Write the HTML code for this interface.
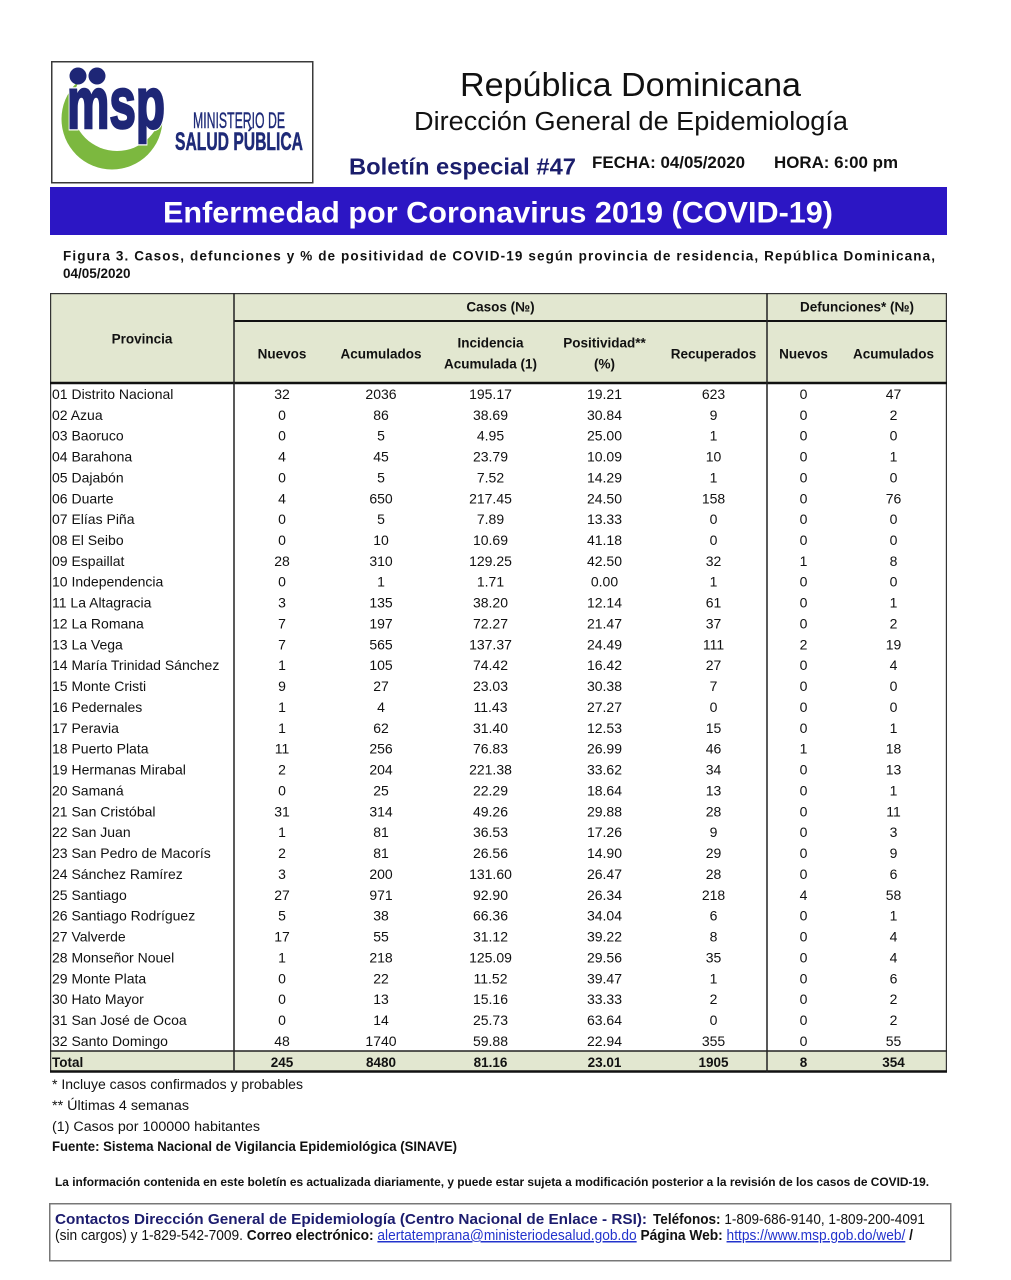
<!DOCTYPE html>
<html><head><meta charset="utf-8">
<style>
html,body{margin:0;padding:0;background:#fff;}
body{width:1011px;height:1280px;overflow:hidden;}
svg{display:block;font-family:"Liberation Sans",Arial,sans-serif;}
.t{font-size:14px;fill:#111;}
.t text.c{text-anchor:middle;}
.h{font-size:13.5px;font-weight:bold;fill:#111;}
.h text{text-anchor:middle;}
.b{font-weight:bold;}
</style></head>
<body>
<svg width="1011" height="1280" viewBox="0 0 1011 1280" xmlns="http://www.w3.org/2000/svg">
<rect x="0" y="0" width="1011" height="1280" fill="#fff"/>

<!-- Logo -->
<circle cx="112" cy="119" r="50.5" fill="#7cb83f"/>
<circle cx="117" cy="106" r="45" fill="#fff"/>
<circle cx="78" cy="76" r="8.5" fill="#1e2676"/>
<circle cx="97" cy="76" r="8.5" fill="#1e2676"/>
<text x="67" y="128" font-size="72" font-weight="bold" fill="#fff" stroke="#fff" stroke-width="5" textLength="98" lengthAdjust="spacingAndGlyphs">msp</text>
<text x="67" y="128" font-size="72" font-weight="bold" fill="#1e2676" stroke="#1e2676" stroke-width="2.5" textLength="98" lengthAdjust="spacingAndGlyphs">msp</text>
<text x="193" y="128" font-size="22" fill="#1e2a78" stroke="#1e2a78" stroke-width="0.4" textLength="92" lengthAdjust="spacingAndGlyphs">MINISTERIO DE</text>
<text x="175" y="150" font-size="25" font-weight="bold" fill="#1e2a78" stroke="#1e2a78" stroke-width="0.5" textLength="128" lengthAdjust="spacingAndGlyphs">SALUD PÚBLICA</text>
<rect x="51.75" y="61.75" width="261" height="121" fill="none" stroke="#3a3a3a" stroke-width="1.5"/>

<!-- Header titles -->
<text x="460" y="96" font-size="33" fill="#111" textLength="341" lengthAdjust="spacingAndGlyphs">República Dominicana</text>
<text x="414" y="130" font-size="25.5" fill="#111" textLength="434" lengthAdjust="spacingAndGlyphs">Dirección General de Epidemiología</text>
<text x="349" y="174.5" font-size="23.5" font-weight="bold" fill="#1b1e6c" textLength="227" lengthAdjust="spacingAndGlyphs">Boletín especial #47</text>
<text x="592" y="168" font-size="16.5" font-weight="bold" fill="#111" textLength="153" lengthAdjust="spacingAndGlyphs">FECHA: 04/05/2020</text>
<text x="774" y="168" font-size="16.5" font-weight="bold" fill="#111" textLength="124" lengthAdjust="spacingAndGlyphs">HORA: 6:00 pm</text>

<!-- Banner -->
<rect x="50" y="187" width="897" height="48" fill="#2c16c4"/>
<text x="163" y="222.5" font-size="30" font-weight="bold" fill="#fff" textLength="670" lengthAdjust="spacingAndGlyphs">Enfermedad por Coronavirus 2019 (COVID-19)</text>

<!-- Caption -->
<text x="63" y="260.5" font-size="13.5" font-weight="bold" fill="#111" textLength="872" lengthAdjust="spacing">Figura 3. Casos, defunciones y % de positividad de COVID-19 según provincia de residencia, República Dominicana,</text>
<text x="63" y="278" font-size="13.5" font-weight="bold" fill="#111">04/05/2020</text>

<!-- Table backgrounds -->
<rect x="50" y="293" width="897" height="90" fill="#e2e7d0"/>
<rect x="50" y="1051" width="897" height="21" fill="#e2e7d0"/>

<!-- Table lines -->
<rect x="50.6" y="293.6" width="895.8" height="777.8" fill="none" stroke="#333" stroke-width="1.2"/>
<line x1="234" y1="321" x2="947" y2="321" stroke="#111" stroke-width="2"/>
<line x1="50" y1="383" x2="947" y2="383" stroke="#111" stroke-width="2.5"/>
<line x1="50" y1="1051" x2="947" y2="1051" stroke="#222" stroke-width="1.6"/>
<line x1="50" y1="1071.5" x2="947" y2="1071.5" stroke="#111" stroke-width="2.5"/>
<line x1="234" y1="293" x2="234" y2="1072" stroke="#222" stroke-width="1.5"/>
<line x1="767" y1="293" x2="767" y2="1072" stroke="#222" stroke-width="1.5"/>

<!-- Header text -->
<g class="h">
<text x="142" y="343.7">Provincia</text>
<text x="500.5" y="311.7">Casos (№)</text>
<text x="857" y="311.7">Defunciones* (№)</text>
<text x="282" y="358.7">Nuevos</text>
<text x="381" y="358.7">Acumulados</text>
<text x="490.5" y="347.7">Incidencia</text>
<text x="490.5" y="368.7">Acumulada (1)</text>
<text x="604.5" y="347.7">Positividad**</text>
<text x="604.5" y="368.7">(%)</text>
<text x="713.5" y="358.7">Recuperados</text>
<text x="803.5" y="358.7">Nuevos</text>
<text x="893.5" y="358.7">Acumulados</text>
</g>

<!-- Data rows -->
<g class="t">
<g transform="translate(0,398.9)"><text x="52">01 Distrito Nacional</text><text class="c" x="282">32</text><text class="c" x="381">2036</text><text class="c" x="490.5">195.17</text><text class="c" x="604.5">19.21</text><text class="c" x="713.5">623</text><text class="c" x="803.5">0</text><text class="c" x="893.5">47</text></g>
<g transform="translate(0,419.8)"><text x="52">02 Azua</text><text class="c" x="282">0</text><text class="c" x="381">86</text><text class="c" x="490.5">38.69</text><text class="c" x="604.5">30.84</text><text class="c" x="713.5">9</text><text class="c" x="803.5">0</text><text class="c" x="893.5">2</text></g>
<g transform="translate(0,440.6)"><text x="52">03 Baoruco</text><text class="c" x="282">0</text><text class="c" x="381">5</text><text class="c" x="490.5">4.95</text><text class="c" x="604.5">25.00</text><text class="c" x="713.5">1</text><text class="c" x="803.5">0</text><text class="c" x="893.5">0</text></g>
<g transform="translate(0,461.5)"><text x="52">04 Barahona</text><text class="c" x="282">4</text><text class="c" x="381">45</text><text class="c" x="490.5">23.79</text><text class="c" x="604.5">10.09</text><text class="c" x="713.5">10</text><text class="c" x="803.5">0</text><text class="c" x="893.5">1</text></g>
<g transform="translate(0,482.4)"><text x="52">05 Dajabón</text><text class="c" x="282">0</text><text class="c" x="381">5</text><text class="c" x="490.5">7.52</text><text class="c" x="604.5">14.29</text><text class="c" x="713.5">1</text><text class="c" x="803.5">0</text><text class="c" x="893.5">0</text></g>
<g transform="translate(0,503.3)"><text x="52">06 Duarte</text><text class="c" x="282">4</text><text class="c" x="381">650</text><text class="c" x="490.5">217.45</text><text class="c" x="604.5">24.50</text><text class="c" x="713.5">158</text><text class="c" x="803.5">0</text><text class="c" x="893.5">76</text></g>
<g transform="translate(0,524.1)"><text x="52">07 Elías Piña</text><text class="c" x="282">0</text><text class="c" x="381">5</text><text class="c" x="490.5">7.89</text><text class="c" x="604.5">13.33</text><text class="c" x="713.5">0</text><text class="c" x="803.5">0</text><text class="c" x="893.5">0</text></g>
<g transform="translate(0,545.0)"><text x="52">08 El Seibo</text><text class="c" x="282">0</text><text class="c" x="381">10</text><text class="c" x="490.5">10.69</text><text class="c" x="604.5">41.18</text><text class="c" x="713.5">0</text><text class="c" x="803.5">0</text><text class="c" x="893.5">0</text></g>
<g transform="translate(0,565.9)"><text x="52">09 Espaillat</text><text class="c" x="282">28</text><text class="c" x="381">310</text><text class="c" x="490.5">129.25</text><text class="c" x="604.5">42.50</text><text class="c" x="713.5">32</text><text class="c" x="803.5">1</text><text class="c" x="893.5">8</text></g>
<g transform="translate(0,586.7)"><text x="52">10 Independencia</text><text class="c" x="282">0</text><text class="c" x="381">1</text><text class="c" x="490.5">1.71</text><text class="c" x="604.5">0.00</text><text class="c" x="713.5">1</text><text class="c" x="803.5">0</text><text class="c" x="893.5">0</text></g>
<g transform="translate(0,607.6)"><text x="52">11 La Altagracia</text><text class="c" x="282">3</text><text class="c" x="381">135</text><text class="c" x="490.5">38.20</text><text class="c" x="604.5">12.14</text><text class="c" x="713.5">61</text><text class="c" x="803.5">0</text><text class="c" x="893.5">1</text></g>
<g transform="translate(0,628.5)"><text x="52">12 La Romana</text><text class="c" x="282">7</text><text class="c" x="381">197</text><text class="c" x="490.5">72.27</text><text class="c" x="604.5">21.47</text><text class="c" x="713.5">37</text><text class="c" x="803.5">0</text><text class="c" x="893.5">2</text></g>
<g transform="translate(0,649.3)"><text x="52">13 La Vega</text><text class="c" x="282">7</text><text class="c" x="381">565</text><text class="c" x="490.5">137.37</text><text class="c" x="604.5">24.49</text><text class="c" x="713.5">111</text><text class="c" x="803.5">2</text><text class="c" x="893.5">19</text></g>
<g transform="translate(0,670.2)"><text x="52">14 María Trinidad Sánchez</text><text class="c" x="282">1</text><text class="c" x="381">105</text><text class="c" x="490.5">74.42</text><text class="c" x="604.5">16.42</text><text class="c" x="713.5">27</text><text class="c" x="803.5">0</text><text class="c" x="893.5">4</text></g>
<g transform="translate(0,691.1)"><text x="52">15 Monte Cristi</text><text class="c" x="282">9</text><text class="c" x="381">27</text><text class="c" x="490.5">23.03</text><text class="c" x="604.5">30.38</text><text class="c" x="713.5">7</text><text class="c" x="803.5">0</text><text class="c" x="893.5">0</text></g>
<g transform="translate(0,712.0)"><text x="52">16 Pedernales</text><text class="c" x="282">1</text><text class="c" x="381">4</text><text class="c" x="490.5">11.43</text><text class="c" x="604.5">27.27</text><text class="c" x="713.5">0</text><text class="c" x="803.5">0</text><text class="c" x="893.5">0</text></g>
<g transform="translate(0,732.8)"><text x="52">17 Peravia</text><text class="c" x="282">1</text><text class="c" x="381">62</text><text class="c" x="490.5">31.40</text><text class="c" x="604.5">12.53</text><text class="c" x="713.5">15</text><text class="c" x="803.5">0</text><text class="c" x="893.5">1</text></g>
<g transform="translate(0,753.7)"><text x="52">18 Puerto Plata</text><text class="c" x="282">11</text><text class="c" x="381">256</text><text class="c" x="490.5">76.83</text><text class="c" x="604.5">26.99</text><text class="c" x="713.5">46</text><text class="c" x="803.5">1</text><text class="c" x="893.5">18</text></g>
<g transform="translate(0,774.6)"><text x="52">19 Hermanas Mirabal</text><text class="c" x="282">2</text><text class="c" x="381">204</text><text class="c" x="490.5">221.38</text><text class="c" x="604.5">33.62</text><text class="c" x="713.5">34</text><text class="c" x="803.5">0</text><text class="c" x="893.5">13</text></g>
<g transform="translate(0,795.4)"><text x="52">20 Samaná</text><text class="c" x="282">0</text><text class="c" x="381">25</text><text class="c" x="490.5">22.29</text><text class="c" x="604.5">18.64</text><text class="c" x="713.5">13</text><text class="c" x="803.5">0</text><text class="c" x="893.5">1</text></g>
<g transform="translate(0,816.3)"><text x="52">21 San Cristóbal</text><text class="c" x="282">31</text><text class="c" x="381">314</text><text class="c" x="490.5">49.26</text><text class="c" x="604.5">29.88</text><text class="c" x="713.5">28</text><text class="c" x="803.5">0</text><text class="c" x="893.5">11</text></g>
<g transform="translate(0,837.2)"><text x="52">22 San Juan</text><text class="c" x="282">1</text><text class="c" x="381">81</text><text class="c" x="490.5">36.53</text><text class="c" x="604.5">17.26</text><text class="c" x="713.5">9</text><text class="c" x="803.5">0</text><text class="c" x="893.5">3</text></g>
<g transform="translate(0,858.0)"><text x="52">23 San Pedro de Macorís</text><text class="c" x="282">2</text><text class="c" x="381">81</text><text class="c" x="490.5">26.56</text><text class="c" x="604.5">14.90</text><text class="c" x="713.5">29</text><text class="c" x="803.5">0</text><text class="c" x="893.5">9</text></g>
<g transform="translate(0,878.9)"><text x="52">24 Sánchez Ramírez</text><text class="c" x="282">3</text><text class="c" x="381">200</text><text class="c" x="490.5">131.60</text><text class="c" x="604.5">26.47</text><text class="c" x="713.5">28</text><text class="c" x="803.5">0</text><text class="c" x="893.5">6</text></g>
<g transform="translate(0,899.8)"><text x="52">25 Santiago</text><text class="c" x="282">27</text><text class="c" x="381">971</text><text class="c" x="490.5">92.90</text><text class="c" x="604.5">26.34</text><text class="c" x="713.5">218</text><text class="c" x="803.5">4</text><text class="c" x="893.5">58</text></g>
<g transform="translate(0,920.7)"><text x="52">26 Santiago Rodríguez</text><text class="c" x="282">5</text><text class="c" x="381">38</text><text class="c" x="490.5">66.36</text><text class="c" x="604.5">34.04</text><text class="c" x="713.5">6</text><text class="c" x="803.5">0</text><text class="c" x="893.5">1</text></g>
<g transform="translate(0,941.5)"><text x="52">27 Valverde</text><text class="c" x="282">17</text><text class="c" x="381">55</text><text class="c" x="490.5">31.12</text><text class="c" x="604.5">39.22</text><text class="c" x="713.5">8</text><text class="c" x="803.5">0</text><text class="c" x="893.5">4</text></g>
<g transform="translate(0,962.4)"><text x="52">28 Monseñor Nouel</text><text class="c" x="282">1</text><text class="c" x="381">218</text><text class="c" x="490.5">125.09</text><text class="c" x="604.5">29.56</text><text class="c" x="713.5">35</text><text class="c" x="803.5">0</text><text class="c" x="893.5">4</text></g>
<g transform="translate(0,983.3)"><text x="52">29 Monte Plata</text><text class="c" x="282">0</text><text class="c" x="381">22</text><text class="c" x="490.5">11.52</text><text class="c" x="604.5">39.47</text><text class="c" x="713.5">1</text><text class="c" x="803.5">0</text><text class="c" x="893.5">6</text></g>
<g transform="translate(0,1004.1)"><text x="52">30 Hato Mayor</text><text class="c" x="282">0</text><text class="c" x="381">13</text><text class="c" x="490.5">15.16</text><text class="c" x="604.5">33.33</text><text class="c" x="713.5">2</text><text class="c" x="803.5">0</text><text class="c" x="893.5">2</text></g>
<g transform="translate(0,1025.0)"><text x="52">31 San José de Ocoa</text><text class="c" x="282">0</text><text class="c" x="381">14</text><text class="c" x="490.5">25.73</text><text class="c" x="604.5">63.64</text><text class="c" x="713.5">0</text><text class="c" x="803.5">0</text><text class="c" x="893.5">2</text></g>
<g transform="translate(0,1045.9)"><text x="52">32 Santo Domingo</text><text class="c" x="282">48</text><text class="c" x="381">1740</text><text class="c" x="490.5">59.88</text><text class="c" x="604.5">22.94</text><text class="c" x="713.5">355</text><text class="c" x="803.5">0</text><text class="c" x="893.5">55</text></g>
<g transform="translate(0,1066.9)" font-weight="bold" font-size="13.5"><text x="52">Total</text><text class="c" x="282">245</text><text class="c" x="381">8480</text><text class="c" x="490.5">81.16</text><text class="c" x="604.5">23.01</text><text class="c" x="713.5">1905</text><text class="c" x="803.5">8</text><text class="c" x="893.5">354</text></g>
</g>

<!-- Footnotes -->
<text x="52" y="1089" font-size="13.5" fill="#111" textLength="251" lengthAdjust="spacingAndGlyphs">* Incluye casos confirmados y probables</text>
<text x="52" y="1110" font-size="13.5" fill="#111" textLength="137" lengthAdjust="spacingAndGlyphs">** Últimas 4 semanas</text>
<text x="52" y="1131" font-size="13.5" fill="#111" textLength="208" lengthAdjust="spacingAndGlyphs">(1) Casos por 100000 habitantes</text>
<text x="52" y="1151" font-size="13.5" font-weight="bold" fill="#111" textLength="405" lengthAdjust="spacingAndGlyphs">Fuente: Sistema Nacional de Vigilancia Epidemiológica (SINAVE)</text>

<!-- Disclaimer -->
<text x="55" y="1186" font-size="11.5" font-weight="bold" fill="#111" textLength="874" lengthAdjust="spacingAndGlyphs">La información contenida en este boletín es actualizada diariamente, y puede estar sujeta a modificación posterior a la revisión de los casos de COVID-19.</text>

<!-- Contact box -->
<rect x="49.75" y="1203.75" width="901" height="57" fill="none" stroke="#777" stroke-width="1.5"/>
<text x="55" y="1224" font-size="15" font-weight="bold" fill="#1c1c6e" textLength="592" lengthAdjust="spacingAndGlyphs">Contactos Dirección General de Epidemiología (Centro Nacional de Enlace - RSI):</text>
<text x="653" y="1224" font-size="15" fill="#111" textLength="272" lengthAdjust="spacingAndGlyphs"><tspan font-weight="bold">Teléfonos:</tspan> 1-809-686-9140, 1-809-200-4091</text>
<text x="55" y="1240" font-size="15" fill="#111" textLength="858" lengthAdjust="spacingAndGlyphs">(sin cargos) y 1-829-542-7009.  <tspan font-weight="bold">Correo electrónico:</tspan> <tspan fill="#2233cc" style="text-decoration:underline">alertatemprana@ministeriodesalud.gob.do</tspan> <tspan font-weight="bold">Página Web:</tspan> <tspan fill="#2233cc" style="text-decoration:underline">https://www.msp.gob.do/web/</tspan> <tspan font-weight="bold">/</tspan></text>
</svg>
</body></html>
